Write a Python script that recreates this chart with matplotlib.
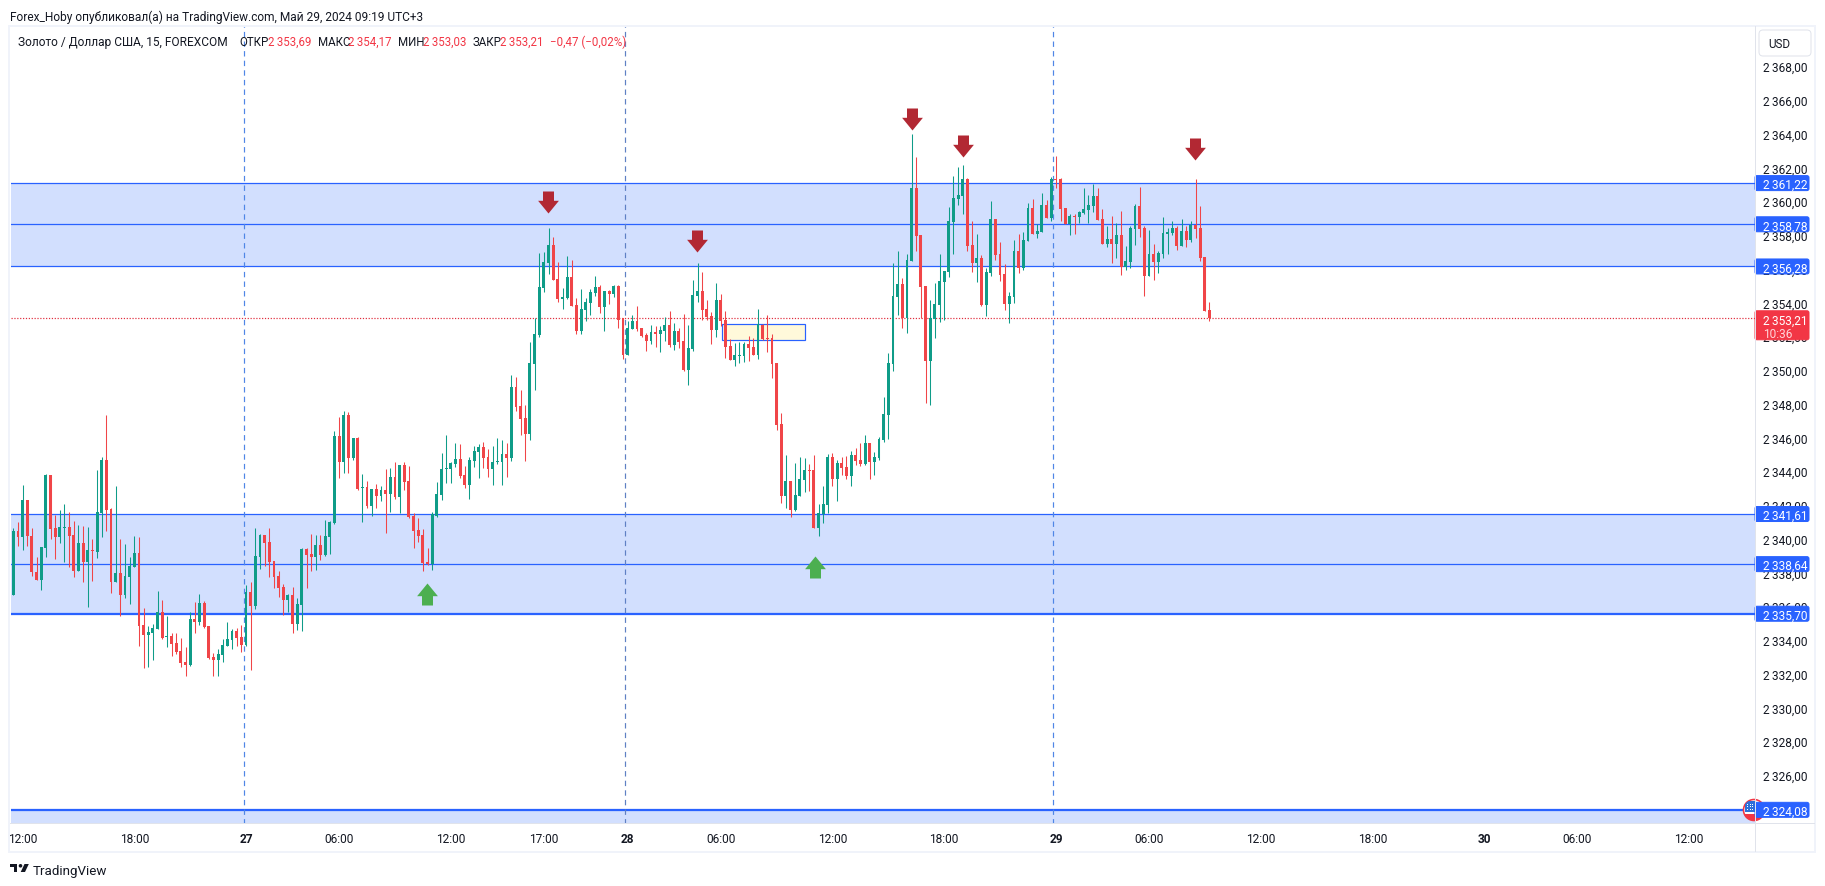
import numpy as np
import matplotlib
matplotlib.use("Agg")
import matplotlib.pyplot as plt
from matplotlib.patches import Rectangle, FancyBboxPatch, Polygon, Circle
from matplotlib.path import Path
from matplotlib.transforms import ScaledTranslation

plt.rcParams['font.family'] = ['Roboto', 'DejaVu Sans']

BASE = 2300.0
opens = [38.76,
 36.79,40.62,40.22,42.46,40.32,38.19,37.72,39.61,43.94,40.80,
 40.26,40.80,40.86,40.38,38.25,39.91,38.78,39.49,39.37,41.68,
 44.83,41.92,37.60,38.13,36.83,37.89,38.49,39.31,35.05,34.46,
 34.58,34.81,35.82,34.34,34.40,33.98,33.51,32.86,32.68,35.41,
 35.23,36.35,34.99,33.15,32.98,33.27,33.80,34.16,34.69,34.34,
 33.87,37.00,36.17,39.08,40.38,39.97,38.84,37.95,37.30,36.53,
 36.83,35.11,36.23,39.55,39.26,39.08,39.79,39.20,40.26,41.09,
 46.25,44.71,47.49,44.94,46.13,43.17,43.23,42.10,43.11,42.69,
 43.05,42.81,43.82,42.63,44.53,43.58,41.51,40.68,40.38,38.78,
 38.66,41.51,42.75,44.29,44.29,44.59,44.88,43.94,43.34,44.77,
 45.30,45.60,45.00,44.29,44.71,44.71,45.18,44.94,49.15,48.03,
 47.31,46.37,50.51,52.23,55.02,56.50,57.56,55.55,54.36,54.42,
 55.67,54.01,52.47,53.71,54.13,54.72,55.08,53.89,54.84,54.66,
 55.13,53.24,51.05,52.59,53.06,52.65,52.23,51.88,52.41,52.29,
 52.47,52.82,51.64,52.47,51.88,50.16,51.40,54.54,54.84,53.77,
 53.36,52.53,54.31,53.12,51.58,50.75,50.99,50.99,51.70,51.52,
 51.05,52.82,52.05,52.05,50.57,46.96,42.69,43.58,41.86,42.69,
 43.64,44.23,44.23,40.80,41.63,42.16,45.00,43.70,44.65,44.41,
 43.88,45.12,44.83,44.59,45.83,44.71,44.94,46.01,47.49,50.51,
 54.48,55.25,53.23,56.61,60.93,58.15,55.13,50.69,53.17,54.00,
 55.37,55.96,58.92,60.28,60.46,61.47,57.56,56.49,56.79,54.00,
 55.90,59.10,57.02,55.84,54.06,54.48,57.20,56.20,57.79,59.75,
 58.21,58.33,59.93,59.16,61.47,61.47,59.75,58.80,59.28,59.22,
 59.45,59.63,59.87,60.46,59.10,57.62,57.91,57.62,58.15,56.26,
 56.55,58.51,59.87,58.56,55.72,57.02,56.55,57.02,58.21,58.27,
 58.56,57.50,58.39,57.85,58.74,58.56,56.85,53.69]
highs = [38.76,
 40.78,41.15,43.34,42.46,40.78,39.06,39.67,43.99,43.94,41.57,
 41.86,42.22,41.74,41.21,40.97,40.91,40.86,40.14,44.23,45.00,
 47.49,41.98,43.28,40.14,39.85,39.08,40.32,40.26,36.06,34.99,
 35.11,37.06,36.53,35.58,34.58,34.58,34.28,33.75,35.82,36.41,
 36.89,36.47,34.99,33.39,33.63,34.22,35.23,34.81,34.87,35.05,
 37.42,37.60,40.80,40.44,40.38,40.80,38.84,38.25,37.48,36.89,
 37.30,36.65,39.61,39.61,40.44,40.38,40.38,41.27,41.21,46.55,
 47.37,47.73,47.67,46.13,46.19,43.99,43.58,43.11,43.40,43.28,
 44.29,44.35,44.71,44.53,44.71,44.47,41.68,41.39,40.74,39.61,
 41.74,43.52,45.24,46.31,44.71,45.83,45.77,44.43,45.00,45.65,
 45.77,45.89,45.48,45.65,46.13,46.01,45.83,49.86,49.74,48.97,
 48.08,51.82,53.24,57.09,57.15,58.57,58.04,56.56,55.02,56.91,
 56.67,54.42,54.96,54.42,54.96,55.73,55.19,54.84,54.90,55.19,
 55.19,53.24,53.06,53.42,53.95,52.65,52.35,52.82,52.76,52.76,
 53.30,53.65,52.94,52.65,53.48,52.82,55.49,56.50,55.97,54.31,
 53.59,55.31,54.66,53.65,51.99,51.76,51.82,51.82,52.17,52.05,
 53.77,52.88,53.42,52.29,50.57,47.61,45.12,43.58,44.65,45.00,
 44.94,44.59,45.12,42.22,43.29,45.18,45.24,44.83,45.00,45.06,
 45.36,45.54,45.83,46.31,45.83,45.30,46.19,48.56,51.17,56.50,
 57.21,55.60,57.02,64.13,62.77,58.15,55.13,54.30,55.31,57.02,
 56.02,59.81,61.65,62.18,62.30,61.53,58.98,58.21,56.97,56.20,
 60.17,59.10,57.74,56.43,54.77,57.85,58.21,58.33,60.05,60.28,
 58.80,60.64,60.22,61.59,62.83,61.53,59.75,59.39,59.39,59.57,
 60.93,60.52,61.17,60.93,59.69,58.68,59.28,58.86,59.57,57.50,
 58.68,59.99,60.99,58.68,58.45,57.62,57.20,59.22,58.56,58.98,
 58.68,59.10,58.68,58.98,61.47,59.87,56.85,54.17]
lows = [36.79,
 36.79,39.69,39.49,39.69,37.91,37.68,37.12,39.06,40.14,38.96,
 39.91,38.78,38.49,37.89,38.25,37.60,36.12,37.66,39.02,40.26,
 40.62,36.95,37.60,35.58,36.65,36.29,38.49,33.80,32.50,32.56,
 32.98,34.81,34.22,33.75,33.21,33.33,32.56,32.03,32.62,34.58,
 35.05,34.87,33.04,32.03,32.03,32.86,33.80,33.63,33.80,33.45,
 33.80,32.38,36.00,38.37,38.54,37.89,37.24,36.71,35.64,35.82,
 34.58,34.75,34.69,37.24,38.25,38.31,38.90,39.14,39.26,41.03,
 43.76,44.05,44.05,44.83,43.05,41.15,41.98,41.51,41.98,42.40,
 40.50,41.74,42.52,41.68,43.05,41.39,39.61,39.97,38.25,38.60,
 38.31,41.45,42.46,43.46,43.46,44.41,43.76,43.17,42.51,44.41,
 43.76,44.35,43.82,43.34,44.59,43.34,43.82,44.77,47.73,46.31,
 44.77,46.01,48.97,52.11,54.78,55.85,55.49,54.19,53.77,54.36,
 53.95,52.29,52.29,53.06,53.42,54.54,53.54,52.47,54.07,54.48,
 52.65,50.81,51.05,52.59,52.47,52.11,51.29,51.70,51.52,51.22,
 51.88,51.52,51.34,51.46,50.10,49.27,51.29,54.19,53.12,53.12,
 51.70,52.11,52.76,50.87,50.75,50.40,50.57,50.63,50.69,51.05,
 50.81,51.94,51.22,49.68,46.60,42.28,41.98,41.45,41.80,42.69,
 42.93,42.99,40.80,40.32,41.09,41.68,43.29,42.40,43.94,43.70,
 43.29,44.53,44.47,44.53,43.70,43.94,44.83,45.89,46.07,50.10,
 53.42,52.64,52.34,56.61,57.20,53.21,48.20,48.08,52.05,53.00,
 53.12,55.66,57.02,59.93,59.39,57.20,55.96,55.37,53.94,53.35,
 55.72,56.67,55.43,53.71,52.94,54.12,55.90,56.08,57.79,58.21,
 57.97,58.33,59.16,58.98,60.93,58.98,58.80,58.15,58.21,58.86,
 59.39,58.86,59.51,59.04,57.62,57.44,56.49,56.79,55.78,56.08,
 56.20,57.56,58.03,54.54,55.72,55.48,55.90,56.79,57.02,58.15,
 57.26,57.50,57.44,57.74,57.97,56.61,53.65,53.03]
closes = [36.79,
 40.62,40.22,42.46,40.28,38.15,37.72,39.67,43.94,40.74,40.26,
 40.86,40.86,40.32,38.25,39.91,38.78,39.49,39.43,41.74,44.83,
 41.86,37.60,38.13,36.83,37.95,38.54,39.31,34.99,34.46,34.63,
 34.87,35.82,34.28,34.40,33.92,33.45,32.80,32.68,35.41,35.23,
 36.35,34.93,33.10,32.98,33.33,33.87,34.22,34.69,34.28,33.87,
 37.00,36.17,39.14,40.38,39.91,38.78,37.89,37.24,36.53,36.83,
 35.11,36.29,39.55,39.20,39.08,39.79,39.20,40.32,41.15,46.25,
 44.71,47.49,44.94,46.13,43.11,43.23,42.10,43.11,42.69,43.05,
 42.81,43.82,42.63,44.53,43.52,41.45,40.62,40.32,38.72,38.66,
 41.63,42.81,44.29,44.35,44.65,44.88,43.88,43.34,44.83,45.36,
 45.60,44.94,44.29,44.71,44.77,45.18,44.94,49.15,47.97,47.25,
 46.37,50.57,52.29,55.08,56.56,57.56,55.49,54.36,54.48,55.67,
 53.95,52.47,53.77,54.19,54.78,55.08,53.89,54.84,54.66,55.13,
 53.12,51.05,52.65,53.06,52.59,52.17,51.88,52.41,52.29,52.53,
 52.82,51.64,52.47,51.82,50.16,51.46,54.60,54.84,53.71,53.30,
 52.53,54.31,53.06,51.52,50.75,51.05,51.05,51.70,51.46,51.05,
 52.88,51.99,51.99,50.51,46.90,42.69,43.58,41.86,42.75,43.70,
 44.23,44.17,40.80,41.68,42.22,45.00,43.70,44.65,44.35,43.88,
 45.12,44.77,44.59,45.83,44.71,45.00,46.07,47.55,50.57,54.54,
 55.25,53.23,56.67,60.93,58.09,55.07,50.69,53.23,54.06,55.43,
 56.02,58.98,60.34,60.52,61.47,57.50,56.49,56.79,54.00,55.96,
 59.10,56.97,55.78,54.06,54.54,57.20,56.20,57.85,59.75,58.21,
 58.39,59.93,59.16,61.47,61.41,59.69,58.80,59.28,59.22,59.51,
 59.69,59.93,60.46,59.04,57.62,57.91,57.62,58.15,56.26,56.61,
 58.56,59.87,58.51,55.72,57.02,56.55,57.08,58.27,58.33,58.56,
 57.50,58.39,57.85,58.74,58.51,56.79,53.65,53.21]

level_prices = [2361.22, 2358.78, 2356.28, 2341.61, 2338.64, 2335.70, 2324.08]
level_labels = ["2\u2009361,22", "2\u2009358,78", "2\u2009356,28", "2\u2009341,61",
                "2\u2009338,64", "2\u2009335,70", "2\u2009324,08"]
level_widths = [1.0, 1.0, 1.0, 1.0, 1.0, 1.8, 1.8]
last_price = 2353.21
price_ticks = list(range(2326, 2370, 2))
time_ticks = [2, 26, 50, 70, 94, 114, 132, 152, 176, 200, 224, 244, 268, 292, 316, 336, 360]
time_labels = ["12:00", "18:00", "27", "06:00", "12:00", "17:00", "28", "06:00", "12:00",
               "18:00", "29", "06:00", "12:00", "18:00", "30", "06:00", "12:00"]
day_labels = {"27", "28", "29", "30"}
day_breaks = [49.6, 131.4, 223.4]
zone_box = (152.2, 170.0, 2351.92, 2352.86)
down_arrow_x = [114.9, 146.9, 193.0, 204.1, 253.9]
down_arrow_p = [2360.12, 2357.81, 2365.03, 2363.44, 2363.25]
up_arrow_x = [88.9, 172.2]
up_arrow_p = [2336.89, 2338.45]

W, H = 1825, 887
PX = 72 / 100  # one pixel in points
UP, DOWN, BLUE, INK = "#0f9c88", "#f04548", "#2962ff", "#131722"
BAND = "#d2dffe"

fig = plt.figure(figsize=(W / 100, H / 100), dpi=100, facecolor="white")
L, R, T, B = 10.5, 1755, 27, 825
ax = fig.add_axes([L / W, (H - B) / H, (R - L) / W, (B - T) / H])
ax.set_xlim(-0.6, 374.2)
ax.set_ylim(2323.24, 2370.53)

o = BASE + np.array(opens); h = BASE + np.array(highs)
l = BASE + np.array(lows); c = BASE + np.array(closes)
idx = np.arange(len(o)) - 1
colors = [UP if ci >= oi else DOWN for oi, ci in zip(o, c)]

ax.axhspan(level_prices[2], level_prices[0], color=BAND, lw=0, zorder=1)
ax.axhspan(level_prices[5], level_prices[3], color=BAND, lw=0, zorder=1)
ax.axhspan(ax.get_ylim()[0], level_prices[6], color=BAND, lw=0, zorder=1)
for p, w in zip(level_prices, level_widths):
    ax.axhline(p, color=BLUE, lw=w * 1.25 * PX, zorder=2)
for xb, col in zip(day_breaks, ["#4f86e6", "#5f80c4", "#4f86e6"]):
    ax.axvline(xb, color=col, lw=1.2 * PX, ls=(0, (4.5, 3.5)), zorder=2)
ax.axhline(last_price, color="#e02c3c", lw=1.2 * PX, ls=(0, (1, 1.4)), zorder=2)
ax.add_patch(Rectangle((zone_box[0], zone_box[2]), zone_box[1] - zone_box[0], zone_box[3] - zone_box[2],
                       facecolor="#fff9da", edgecolor=BLUE, lw=1.2 * PX, zorder=2.5))

ax.vlines(idx, l, h, colors=colors, lw=1.05 * PX, zorder=3)
ax.bar(idx, np.abs(c - o), bottom=np.minimum(o, c), width=0.62, color=colors, lw=0, zorder=3.5)

down_path = Path([(-5.5, 11), (5.5, 11), (5.5, 1.7), (10.4, 1.7), (0, -11), (-10.4, 1.7), (-5.5, 1.7), (-5.5, 11)], closed=True)
up_path = Path([(-5.5, -11), (5.5, -11), (5.5, -1.7), (10.4, -1.7), (0, 11), (-10.4, -1.7), (-5.5, -1.7), (-5.5, -11)], closed=True)
ax.plot(down_arrow_x, down_arrow_p, ls="", marker=down_path, ms=22 * PX, mfc="#b22833", mec="none", zorder=4)
ax.plot(up_arrow_x, up_arrow_p, ls="", marker=up_path, ms=22 * PX, mfc="#4caf50", mec="none", zorder=4)

for s in ax.spines.values():
    s.set_visible(False)
ax.yaxis.tick_right()
ax.set_yticks(price_ticks)
ax.set_yticklabels([f"2\u2009{t - 2000},00" for t in price_ticks], fontsize=8.6, color=INK)
ax.tick_params(axis="y", length=0, pad=5.8)
lift = ScaledTranslation(0, 2.5 / 100, fig.dpi_scale_trans)
for lab in ax.get_yticklabels():
    lab.set_transform(lab.get_transform() + lift)
ax.set_xticks(time_ticks)
ax.set_xticklabels(time_labels, fontsize=8.6, color=INK)
ax.tick_params(axis="x", length=0, pad=5.5)
for lab in ax.get_xticklabels():
    if lab.get_text() in day_labels:
        lab.set_fontweight("bold")

# overlay in pixel coordinates for the chrome
ov = fig.add_axes([0, 0, 1, 1], zorder=10)
ov.set_xlim(0, W); ov.set_ylim(H, 0); ov.axis("off"); ov.patch.set_alpha(0)

def price_y(p):
    return H - ax.transData.transform((0, p))[1]

ov.add_patch(Rectangle((9.5, 26.5), 1805.5, 826.5, fill=False, ec="#f0f3fa", lw=2 * PX))
ov.plot([1755, 1755], [27, 852], color="#e0e3eb", lw=1 * PX)
ov.plot([10, 1814], [824.5, 824.5], color="#e0e3eb", lw=1 * PX)

# flag badge
badge = Circle((1754, 811), 10.5, fc="white", ec="#f23645", lw=1.6 * PX)
ov.add_patch(badge)
ov.add_patch(Rectangle((1745, 802), 11, 11, fc="#2e6fd8", ec="none", clip_path=badge))
ov.add_patch(Rectangle((1742, 815.5), 24, 6, fc="#f23645", ec="none", clip_path=badge))
for gx in (1747.5, 1750, 1752.5):
    for gy in (805, 807.5, 810):
        ov.add_patch(Rectangle((gx, gy), 1, 1, fc="white", ec="none"))

def tag(y0, y1, col):
    ov.add_patch(FancyBboxPatch((1755, y0 + 1), 54, y1 - y0 - 2, boxstyle="round,pad=0,rounding_size=2", fc=col, ec=col, lw=1 * PX, mutation_aspect=1))

for p, lab in zip(level_prices, level_labels):
    y = price_y(p)
    tag(y - 8.5, y + 8.5, BLUE)
    ov.text(1763, y, lab, color="white", fontsize=8.6, va="center_baseline", ha="left")

yl = price_y(last_price)
tag(yl - 8.5, yl + 22.5, "#f23645")
ov.text(1763, yl, "2\u2009353,21", color="white", fontsize=8.6, va="center_baseline", ha="left")
ov.text(1763, yl + 14, "10:36", color="#ffd5d9", fontsize=8.6, va="center_baseline", ha="left")

ov.add_patch(FancyBboxPatch((1759, 31), 52, 26, boxstyle="round,pad=0,rounding_size=4", fc="white", ec="#e0e3eb", lw=1 * PX))
ov.text(1779, 43.5, "USD", color=INK, fontsize=8.4, ha="center", va="center_baseline")

# header texts
ov.text(10, 16, "Forex_Hoby опубликовал(а) на TradingView.com, Май 29, 2024 09:19 UTC+3", color=INK, fontsize=8.6, va="center_baseline")
ov.text(18, 41, "Золото / Доллар США, 15, FOREXCOM", color=INK, fontsize=8.6, va="center_baseline")
for x, s, col in [(239, "ОТКР", INK), (268, "2\u2009353,69", "#f23645"), (318, "МАКС", INK), (348, "2\u2009354,17", "#f23645"),
                  (398, "МИН", INK), (423, "2\u2009353,03", "#f23645"), (473, "ЗАКР", INK), (500, "2\u2009353,21", "#f23645"),
                  (550, "\u22120,47 (\u22120,02%)", "#f23645")]:
    ov.text(x, 41, s, color=col, fontsize=8.3, va="center_baseline")

# logo
ov.add_patch(Polygon([(10.3, 865), (17.5, 865), (17.5, 873), (13.8, 873), (13.8, 868.5), (10.3, 868.5)], fc=INK, ec="none"))
ov.add_patch(Circle((20.5, 866.8), 1.8, fc=INK, ec="none"))
ov.add_patch(Polygon([(24.5, 865), (28.8, 865), (25, 873), (20.7, 873)], fc=INK, ec="none"))
ov.text(33, 870, "TradingView", color=INK, fontsize=9.6, va="center_baseline")

fig.savefig("out.png", dpi=100, facecolor="white")
